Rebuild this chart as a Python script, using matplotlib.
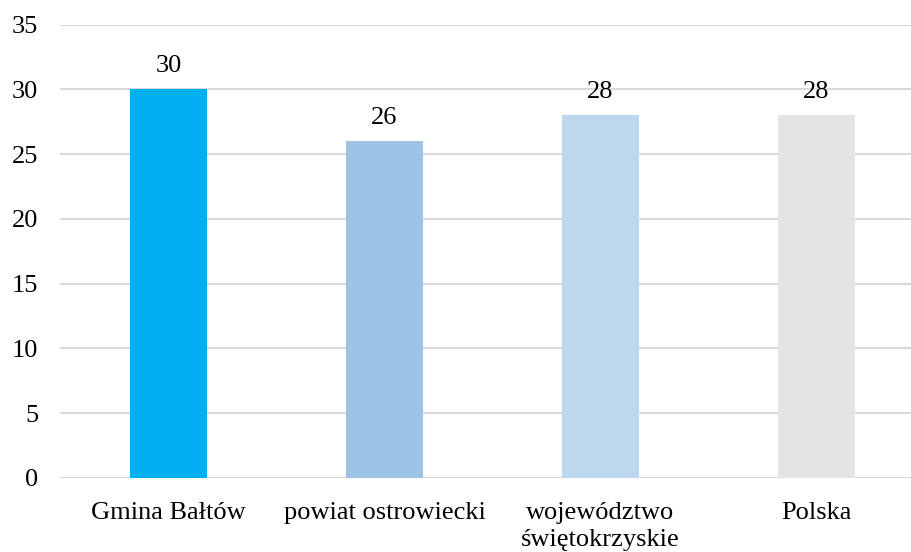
import numpy as np
import matplotlib.pyplot as plt

plt.rcParams['font.family'] = ['Liberation Serif', 'DejaVu Serif']

categories = ['Gmina Bałtów', 'powiat ostrowiecki', 'województwo\nświętokrzyskie', 'Polska']
values = [30, 26, 28, 28]
colors = ['#00B0F0', '#9DC3E6', '#BDD7EE', '#E4E4E4']

fig = plt.figure(figsize=(9.12, 5.52), dpi=100)
ax = fig.add_axes([60.5 / 912, 74 / 552, 864 / 912, 453.5 / 552])

x = np.arange(len(categories))
bars = ax.bar(x, values, width=0.356, color=colors, zorder=2)
for b, v in zip(bars, values):
    ax.annotate(str(v), (b.get_x() + b.get_width() / 2, v), xytext=(0, 9),
                textcoords='offset points', ha='center', va='bottom', fontsize=19)

ax.set_xlim(-0.5, len(categories) - 0.5)
ax.set_ylim(0, 35)
ax.set_yticks(range(0, 36, 5))
ax.set_xticks(x)
ax.set_xticklabels(categories, fontsize=19, linespacing=1.3)
ax.tick_params(axis='y', length=0, pad=16, labelsize=19)
ax.tick_params(axis='x', length=0, pad=17)
ax.grid(axis='y', color='#D9D9D9', linewidth=1.5, zorder=0)
for s in ax.spines.values():
    s.set_visible(False)

fig.savefig('out.png', dpi=100)
